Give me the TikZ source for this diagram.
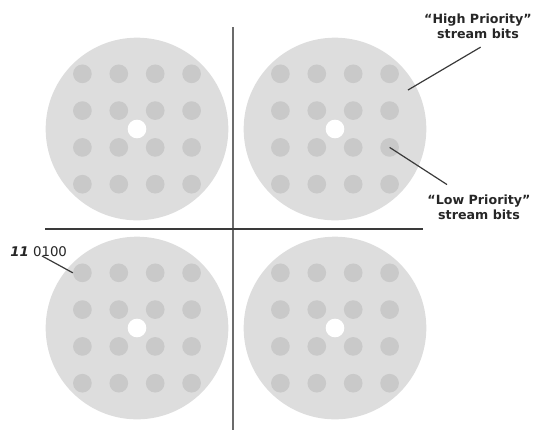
\documentclass[tikz,border=0pt]{standalone}
\usepackage{fontspec}
\setmainfont{DejaVu Sans}
\usepackage{xcolor}
\usepackage{tikz}
\usetikzlibrary{positioning}
\definecolor{diskgray}{HTML}{DDDDDD}
\definecolor{dotgray}{HTML}{C9C9C9}
\definecolor{linegray}{HTML}{3A3A3A}

\begin{document}
\begin{tikzpicture}[
  x=0.75pt, y=-0.75pt,
  disk/.style={
    circle, fill=diskgray, draw=none,
    minimum size=137pt, inner sep=0pt
  },
  bit/.style={circle, fill=dotgray, minimum size=14pt, inner sep=0pt},
  hole/.style={circle, fill=white, minimum size=14pt, inner sep=0pt},
  axis/.style={line width=1.6pt, linegray!75},
  pointer/.style={line width=0.9pt, linegray},
  label/.style={font=\fontsize{9.5}{11.25}\selectfont\bfseries, align=center, text=black!85}
]
\useasboundingbox (0,0) rectangle (533,430);

% Four disks (quadrants)
\node[disk] (dTL) at (137,129) {};
\node[disk] (dTR) at (335,129) {};
\node[disk] (dBL) at (137,328) {};
\node[disk] (dBR) at (335,328) {};

% Bit positions, 4 x 4 on each disk
\foreach \d in {TL,TR,BL,BR}{
  \foreach \i in {1,...,4}{
    \foreach \j in {1,...,4}{
      \node[bit] (\d-\i\j) at ([xshift={(\i-2.5)*27.3pt}, yshift={-(\j-2.5)*27.6pt}]d\d.center) {};
    }
  }
  \node[hole] (h\d) at (d\d.center) {};
}

% Quadrant axes
\coordinate (vtop) at (233,27);
\coordinate (vbot) at (233,430);
\coordinate (hleft) at (45,229);
\coordinate (hright) at (423,229);
\draw[axis] (vtop) -- (vbot);
\draw[axis, linegray] (hleft) -- (hright);

% Labels
\node[label] (hp) at (478,26) {``High Priority''\\stream bits};
\node[label] (lp) at (479,207) {``Low Priority''\\stream bits};
\node[font=\fontsize{10}{11}\selectfont, anchor=west, text=black!85, inner sep=0pt] (code) at (10,252)
  {\textbf{\textit{11}} 0100};

% Pointers
\coordinate (hpend) at (408,90);
\draw[pointer] ([xshift=2pt,yshift=-3pt]hp.south) -- (hpend);
\draw[pointer] ([xshift=-24pt,yshift=4pt]lp.north) -- (TR-43.center);
\draw[pointer] ([xshift=24pt,yshift=1pt]code.south west) -- (BL-11.west);

\end{tikzpicture}
\end{document}
